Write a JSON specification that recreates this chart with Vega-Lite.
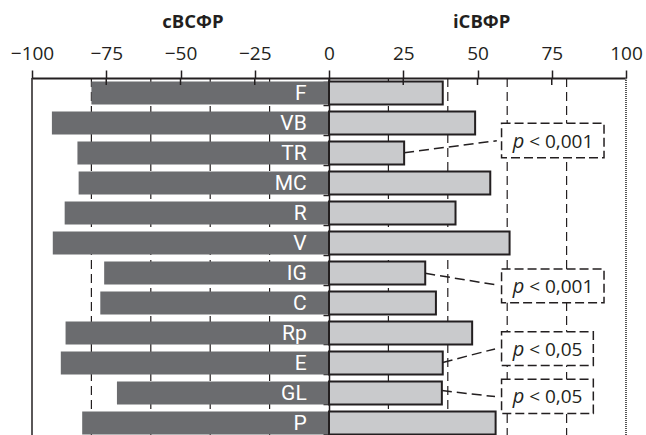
{
  "$schema": "https://vega.github.io/schema/vega-lite/v6.json",
  "width": 594,
  "height": 360,
  "autosize": {"type": "none"},
  "padding": {"left": 32, "top": 78, "right": 20, "bottom": 0},
  "background": "white",
  "config": {"view": {"stroke": null}, "font": "Open Sans"},
  "datasets": {
    "bars": [
      {"cat": "F", "left": -80, "right": 38.3},
      {"cat": "VB", "left": -93.3, "right": 49.2},
      {"cat": "TR", "left": -84.7, "right": 25.3},
      {"cat": "MC", "left": -84.3, "right": 54.3},
      {"cat": "R", "left": -89, "right": 42.6},
      {"cat": "V", "left": -93, "right": 60.8},
      {"cat": "IG", "left": -75.7, "right": 32.4},
      {"cat": "C", "left": -77, "right": 36},
      {"cat": "Rp", "left": -88.7, "right": 48.2},
      {"cat": "E", "left": -90.3, "right": 38.3},
      {"cat": "GL", "left": -71.4, "right": 38},
      {"cat": "P", "left": -83.1, "right": 56.1}
    ],
    "grid": [{"v": -80}, {"v": -60}, {"v": -40}, {"v": -20}, {"v": 20}, {"v": 40}, {"v": 60}, {"v": 80}],
    "ticks": [{"v": -75}, {"v": -50}, {"v": -25}, {"v": 0}, {"v": 25}, {"v": 50}, {"v": 75}],
    "leaders": [
      {"x1": 25.3, "x2": 56.5, "y1": 2.49, "y2": 2.09},
      {"x1": 32.4, "x2": 56.5, "y1": 6.51, "y2": 6.9},
      {"x1": 38.3, "x2": 55.9, "y1": 9.48, "y2": 9.03},
      {"x1": 38.0, "x2": 55.9, "y1": 10.42, "y2": 10.62}
    ],
    "boxes": [
      {"x1": 58.1, "x2": 92.6, "y1": 1.51, "y2": 2.66, "ty": 2.34, "t": "< 0,001"},
      {"x1": 58.1, "x2": 92.6, "y1": 6.37, "y2": 7.49, "ty": 7.17, "t": "< 0,001"},
      {"x1": 58.1, "x2": 89.0, "y1": 8.46, "y2": 9.58, "ty": 9.27, "t": "< 0,05"},
      {"x1": 58.1, "x2": 89.0, "y1": 10.04, "y2": 11.18, "ty": 10.84, "t": "< 0,05"}
    ],
    "titles": [{"t": "cBCΦP", "x": -45.8}, {"t": "iCBΦP", "x": 51.4}],
    "one": [{"k": 1}]
  },
  "resolve": {"scale": {"y": "independent"}},
  "layer": [
    {
      "data": {"name": "grid"},
      "mark": {"type": "rule", "color": "#231f20", "strokeWidth": 1.2, "strokeDash": [9, 5]},
      "encoding": {
        "x": {
          "field": "v", "type": "quantitative",
          "scale": {"domain": [-100, 100], "nice": false, "zero": false},
          "axis": {
            "orient": "top", "values": [-100, -75, -50, -25, 0, 25, 50, 75, 100],
            "title": null, "grid": false,
            "domainColor": "#231f20", "domainWidth": 2,
            "tickColor": "#231f20", "tickWidth": 1.5, "tickSize": 8,
            "labelFont": "Open Sans", "labelFontSize": 19, "labelColor": "#231f20",
            "labelPadding": 7, "labelFlush": false, "labelOverlap": false
          }
        }
      }
    },
    {
      "data": {"name": "one"},
      "mark": {"type": "rule", "color": "#231f20", "strokeWidth": 1.5},
      "encoding": {
        "x": {
          "datum": -100, "type": "quantitative",
          "axis": {
            "orient": "top", "values": [-100, -75, -50, -25, 0, 25, 50, 75, 100],
            "title": null, "grid": false,
            "domainColor": "#231f20", "domainWidth": 2,
            "tickColor": "#231f20", "tickWidth": 1.5, "tickSize": 8,
            "labelFont": "Open Sans", "labelFontSize": 19, "labelColor": "#231f20",
            "labelPadding": 7, "labelFlush": false, "labelOverlap": false
          }
        }
      }
    },
    {
      "data": {"name": "one"},
      "mark": {"type": "rule", "color": "#555555", "strokeWidth": 2, "strokeDash": [1, 1]},
      "encoding": {
        "x": {
          "datum": 100, "type": "quantitative",
          "axis": {
            "orient": "top", "values": [-100, -75, -50, -25, 0, 25, 50, 75, 100],
            "title": null, "grid": false,
            "domainColor": "#231f20", "domainWidth": 2,
            "tickColor": "#231f20", "tickWidth": 1.5, "tickSize": 8,
            "labelFont": "Open Sans", "labelFontSize": 19, "labelColor": "#231f20",
            "labelPadding": 7, "labelFlush": false, "labelOverlap": false
          }
        }
      }
    },
    {
      "data": {"name": "bars"},
      "encoding": {
        "y": {
          "field": "cat", "type": "nominal", "sort": null,
          "scale": {"paddingInner": 0.233, "paddingOuter": 0.117},
          "axis": {
            "orient": "left", "offset": -297, "title": null, "labels": false,
            "tickBand": "extent", "tickSize": 6, "tickColor": "#231f20", "tickWidth": 1.5,
            "domainColor": "#231f20", "domainWidth": 1.5, "grid": false
          }
        }
      },
      "layer": [
        {
          "mark": {"type": "bar", "color": "#6b6c6f"},
          "encoding": {
            "x": {
              "field": "left", "type": "quantitative",
              "axis": {
                "orient": "top", "values": [-100, -75, -50, -25, 0, 25, 50, 75, 100],
                "title": null, "grid": false,
                "domainColor": "#231f20", "domainWidth": 2,
                "tickColor": "#231f20", "tickWidth": 1.5, "tickSize": 8,
                "labelFont": "Open Sans", "labelFontSize": 19, "labelColor": "#231f20",
                "labelPadding": 7, "labelFlush": false, "labelOverlap": false
              }
            },
            "x2": {"datum": 0}
          }
        },
        {
          "mark": {"type": "bar", "color": "#c9cacc", "stroke": "#231f20", "strokeWidth": 2},
          "encoding": {
            "x": {
              "field": "right", "type": "quantitative",
              "axis": {
                "orient": "top", "values": [-100, -75, -50, -25, 0, 25, 50, 75, 100],
                "title": null, "grid": false,
                "domainColor": "#231f20", "domainWidth": 2,
                "tickColor": "#231f20", "tickWidth": 1.5, "tickSize": 8,
                "labelFont": "Open Sans", "labelFontSize": 19, "labelColor": "#231f20",
                "labelPadding": 7, "labelFlush": false, "labelOverlap": false
              }
            },
            "x2": {"datum": 0}
          }
        },
        {
          "mark": {"type": "text", "align": "right", "baseline": "middle", "color": "white", "font": "Roboto", "fontSize": 21, "dy": 1},
          "encoding": {
            "x": {
              "datum": -7.5, "type": "quantitative",
              "axis": {
                "orient": "top", "values": [-100, -75, -50, -25, 0, 25, 50, 75, 100],
                "title": null, "grid": false,
                "domainColor": "#231f20", "domainWidth": 2,
                "tickColor": "#231f20", "tickWidth": 1.5, "tickSize": 8,
                "labelFont": "Open Sans", "labelFontSize": 19, "labelColor": "#231f20",
                "labelPadding": 7, "labelFlush": false, "labelOverlap": false
              }
            },
            "text": {"field": "cat"}
          }
        }
      ]
    },
    {
      "layer": [
        {
          "data": {"name": "ticks"},
          "mark": {"type": "rule", "color": "#231f20", "strokeWidth": 1.5},
          "encoding": {
            "x": {
              "field": "v", "type": "quantitative",
              "axis": {
                "orient": "top", "values": [-100, -75, -50, -25, 0, 25, 50, 75, 100],
                "title": null, "grid": false,
                "domainColor": "#231f20", "domainWidth": 2,
                "tickColor": "#231f20", "tickWidth": 1.5, "tickSize": 8,
                "labelFont": "Open Sans", "labelFontSize": 19, "labelColor": "#231f20",
                "labelPadding": 7, "labelFlush": false, "labelOverlap": false
              }
            },
            "y": {"datum": 0, "type": "quantitative", "scale": {"domain": [0, 12], "reverse": true, "nice": false, "zero": false}, "axis": null},
            "y2": {"datum": 0.233}
          }
        },
        {
          "data": {"name": "leaders"},
          "mark": {"type": "rule", "color": "#231f20", "strokeWidth": 1.5, "strokeDash": [10, 5]},
          "encoding": {
            "x": {
              "field": "x1", "type": "quantitative",
              "axis": {
                "orient": "top", "values": [-100, -75, -50, -25, 0, 25, 50, 75, 100],
                "title": null, "grid": false,
                "domainColor": "#231f20", "domainWidth": 2,
                "tickColor": "#231f20", "tickWidth": 1.5, "tickSize": 8,
                "labelFont": "Open Sans", "labelFontSize": 19, "labelColor": "#231f20",
                "labelPadding": 7, "labelFlush": false, "labelOverlap": false
              }
            },
            "x2": {"field": "x2"},
            "y": {"field": "y1", "type": "quantitative", "scale": {"domain": [0, 12], "reverse": true, "nice": false, "zero": false}, "axis": null},
            "y2": {"field": "y2"}
          }
        },
        {
          "data": {"name": "boxes"},
          "mark": {"type": "rect", "fill": "white", "stroke": "#231f20", "strokeWidth": 1.5, "strokeDash": [9, 4]},
          "encoding": {
            "x": {
              "field": "x1", "type": "quantitative",
              "axis": {
                "orient": "top", "values": [-100, -75, -50, -25, 0, 25, 50, 75, 100],
                "title": null, "grid": false,
                "domainColor": "#231f20", "domainWidth": 2,
                "tickColor": "#231f20", "tickWidth": 1.5, "tickSize": 8,
                "labelFont": "Open Sans", "labelFontSize": 19, "labelColor": "#231f20",
                "labelPadding": 7, "labelFlush": false, "labelOverlap": false
              }
            },
            "x2": {"field": "x2"},
            "y": {"field": "y1", "type": "quantitative", "scale": {"domain": [0, 12], "reverse": true, "nice": false, "zero": false}, "axis": null},
            "y2": {"field": "y2"}
          }
        },
        {
          "data": {"name": "boxes"},
          "mark": {"type": "text", "text": "p", "fontStyle": "italic", "font": "Open Sans", "fontSize": 20, "align": "left", "baseline": "alphabetic", "color": "#231f20"},
          "encoding": {
            "x": {
              "datum": 61.9, "type": "quantitative",
              "axis": {
                "orient": "top", "values": [-100, -75, -50, -25, 0, 25, 50, 75, 100],
                "title": null, "grid": false,
                "domainColor": "#231f20", "domainWidth": 2,
                "tickColor": "#231f20", "tickWidth": 1.5, "tickSize": 8,
                "labelFont": "Open Sans", "labelFontSize": 19, "labelColor": "#231f20",
                "labelPadding": 7, "labelFlush": false, "labelOverlap": false
              }
            },
            "y": {"field": "ty", "type": "quantitative", "scale": {"domain": [0, 12], "reverse": true, "nice": false, "zero": false}, "axis": null}
          }
        },
        {
          "data": {"name": "boxes"},
          "mark": {"type": "text", "font": "Open Sans", "fontSize": 19, "align": "left", "baseline": "alphabetic", "color": "#231f20"},
          "encoding": {
            "x": {
              "datum": 67.4, "type": "quantitative",
              "axis": {
                "orient": "top", "values": [-100, -75, -50, -25, 0, 25, 50, 75, 100],
                "title": null, "grid": false,
                "domainColor": "#231f20", "domainWidth": 2,
                "tickColor": "#231f20", "tickWidth": 1.5, "tickSize": 8,
                "labelFont": "Open Sans", "labelFontSize": 19, "labelColor": "#231f20",
                "labelPadding": 7, "labelFlush": false, "labelOverlap": false
              }
            },
            "y": {"field": "ty", "type": "quantitative", "scale": {"domain": [0, 12], "reverse": true, "nice": false, "zero": false}, "axis": null},
            "text": {"field": "t"}
          }
        },
        {
          "data": {"name": "titles"},
          "mark": {"type": "text", "font": "Open Sans", "fontWeight": "bold", "fontSize": 18.5, "align": "center", "baseline": "alphabetic", "color": "#231f20"},
          "encoding": {
            "x": {
              "field": "x", "type": "quantitative",
              "axis": {
                "orient": "top", "values": [-100, -75, -50, -25, 0, 25, 50, 75, 100],
                "title": null, "grid": false,
                "domainColor": "#231f20", "domainWidth": 2,
                "tickColor": "#231f20", "tickWidth": 1.5, "tickSize": 8,
                "labelFont": "Open Sans", "labelFontSize": 19, "labelColor": "#231f20",
                "labelPadding": 7, "labelFlush": false, "labelOverlap": false
              }
            },
            "y": {"datum": -1.66, "type": "quantitative", "scale": {"domain": [0, 12], "reverse": true, "nice": false, "zero": false}, "axis": null},
            "text": {"field": "t"}
          }
        }
      ]
    }
  ]
}
